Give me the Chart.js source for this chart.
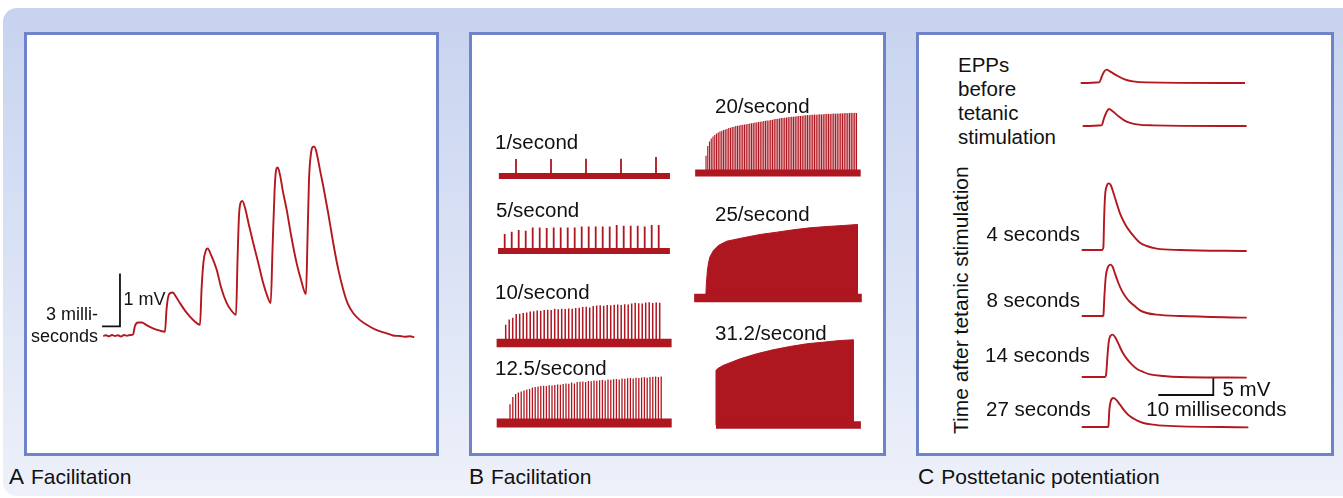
<!DOCTYPE html>
<html>
<head>
<meta charset="utf-8">
<script src="https://cdn.jsdelivr.net/npm/chart.js@4.4.1/dist/chart.umd.min.js"></script>
<style>
  body { margin: 0; background: #fff; }
  #stage { position: relative; width: 1343px; height: 498px; overflow: hidden; font-family: "Liberation Sans", Arial, sans-serif; color: #111; }
  .bg { position: absolute; left: 3px; top: 8px; width: 1370px; height: 488px; border-radius: 14px;
        background: linear-gradient(to bottom, #c7d3ef 0%, #dbe3f5 55%, #eef1fa 100%); }
  .panel { position: absolute; top: 32px; height: 424px; background: #fff; border: 3px solid #7183c8; box-sizing: border-box; }
  .t { position: absolute; white-space: nowrap; line-height: 1; }
  .cap { position: absolute; white-space: nowrap; top: 462px; line-height: 30px; }
  .cap b { font-weight: normal; font-size: 22.5px; margin-right: 7px; }
  .cap span { font-size: 21px; }
  canvas { position: absolute; }
</style>
</head>
<body>
<div id="stage">
  <div class="bg"></div>
  <div class="panel" style="left:24px;width:415px"></div>
  <div class="panel" style="left:469px;width:417px"></div>
  <div class="panel" style="left:916px;width:418px"></div>
</div>
<script>
// ---- Panel A: facilitation, [ms, mV]
const facilTrace = [
  [0,0],[0.45,0.013],[0.95,-0.006],[1.45,0.019],[1.95,0],[2.45,0.015],[2.95,-0.01],[3.45,0.019],[3.95,0.005],[4.45,0.02],
  [4.95,0.028],[5.28,0.19],[5.78,0.255],[6.45,0.255],[7.12,0.21],[8.28,0.145],[9.45,0.10],[10.28,0.08],
  [10.53,0.49],[10.78,0.72],[11.12,0.81],[11.57,0.82],[12.12,0.74],[12.78,0.62],[13.62,0.48],[14.45,0.365],[15.28,0.27],[16.12,0.21],
  [16.37,0.87],[16.7,1.40],[17.12,1.62],[17.4,1.65],[17.95,1.53],[18.9,1.25],[19.62,0.92],[20.57,0.62],[21.28,0.49],[22.12,0.40],
  [22.37,1.43],[22.62,2.28],[22.95,2.53],[23.17,2.55],[23.62,2.42],[24.28,2.09],[25,1.75],[25.78,1.40],[26.67,0.99],[27.28,0.77],[27.9,0.62],
  [28.2,1.62],[28.55,2.75],[28.8,3.13],[29.07,3.18],[29.45,3.04],[29.95,2.72],[30.57,2.38],[31.28,1.91],[32.23,1.37],[32.95,1.06],[33.78,0.79],
  [34.03,1.81],[34.28,2.94],[34.62,3.45],[34.95,3.57],[35.2,3.57],[35.62,3.42],[36.12,3.13],[36.67,2.82],[37.45,2.34],[38.33,1.75],
  [39.12,1.28],[40,0.87],[40.78,0.60],[41.67,0.43],[42.78,0.30],[44.45,0.175],[45.78,0.10],[47.23,0.05],[48.28,0.01],[49.45,0],
  [50.28,-0.013],[51.12,-0.006],[51.83,-0.025]
];
const scaleBarA = [[-0.22,0.18],[2.78,0.18],[2.78,1.18]];   // 3 ms, 1 mV

// ---- Panel B: trains, amplitude in relative units
const rateLabels = ['1/second','5/second','10/second','12.5/second','20/second','25/second','31.2/second'];
const rates = [1, 5, 10, 12.5, 20, 25, 31.2];
const amp1 = [1.7,1.7,1.72,1.72,1.9];
const amp5 = [1.69,1.92,2.09,2.02,2.35,2.35,2.29,2.35,2.35,2.35,2.35,2.45,2.45,2.45,2.45,2.45,2.59,2.52,2.52,2.52,2.45,2.59,2.59];
const amp10 = [1.82,2.35,2.52,2.9,2.92,3.0,3.05,3.15,3.18,3.25,3.22,3.3,3.32,3.3,3.42,3.38,3.42,3.4,3.45,3.42,3.5,3.52,3.6,
  3.62,3.55,3.7,3.75,3.78,3.72,3.8,3.78,3.82,3.85,3.8,3.88,3.85,3.95,4.02,3.98,3.95,4.05,4.08,4.0,4.05,4.02];
const amp12_5 = [1.88,2.6,2.9,3.05,3.15,3.25,3.35,3.4,3.55,3.6,3.65,3.7,3.72,3.7,3.78,3.75,3.8,3.85,3.82,3.9,3.95,3.92,4.05,
  3.95,4.1,4.12,4.15,4.1,4.2,4.18,4.25,4.22,4.28,4.3,4.25,4.35,4.32,4.38,4.4,4.35,4.45,4.42,4.48,4.5,4.45,4.52,4.5,4.55,
  4.58,4.52,4.6,4.62,4.65,4.6,4.65];
const amp20 = [1.73,2.7,3.15,3.45,3.65,3.8,3.95,4.05,4.15,4.2,4.3,4.35,4.4,4.5,4.52,4.6,4.62,4.7,4.72,4.75,4.8,4.82,4.85,
  4.88,4.9,4.95,4.98,5.0,5.05,5.05,5.1,5.12,5.15,5.2,5.22,5.25,5.25,5.3,5.32,5.38,5.4,5.42,5.45,5.5,5.5,5.52,5.55,5.58,
  5.6,5.62,5.62,5.65,5.68,5.7,5.7,5.72,5.75,5.78,5.8,5.78,5.82,5.82,5.85,5.82,5.85,5.88,5.85,5.88,5.9,5.9,5.92,5.9,5.92,
  5.95,5.92,5.95,5.95,5.98,5.95,5.98,6.0,5.98,6.0,6.02,6.0,6.02,6.0];
const env25 = [[0,0],[0.02,1.5],[0.05,2.8],[0.08,3.5],[0.12,4.1],[0.22,4.75],[0.36,5.25],[0.6,5.68],[1.07,6.02],[1.55,6.35],
  [2.03,6.58],[2.5,6.82],[2.98,7.02],[3.46,7.15],[3.93,7.25],[4.33,7.35],[4.33,0]];
const env31 = [[0,0],[0,5.45],[0.05,5.65],[0.2,5.95],[0.69,6.62],[1.16,7.12],[1.63,7.52],[2.11,7.85],[2.59,8.12],[3.06,8.28],
  [3.54,8.45],[3.92,8.52],[3.92,0]];
const recordWindows = [[-0.49,4.4],[-0.19,4.72],[-0.26,4.74],[-0.38,4.62],[-0.31,4.42],[-0.33,4.46],[0,4.14]];   // s

// ---- Panel C: EPPs, [ms, mV]
const eppLabels = ['4 seconds','8 seconds','14 seconds','27 seconds'];
const eppBefore1 = [[0,0],[3.38,0.21],[3.8,1.8],[4.22,3.3],[4.71,4.0],[5.31,3.5],[6.53,2.3],[7.98,1.1],[9.5,0.5],[11.95,0.2],[29.87,0]];
const eppBefore2 = [[0,0],[3.45,0.21],[3.87,2.3],[4.36,4.3],[4.78,5.1],[5.38,4.5],[6.47,3.0],[7.98,1.3],[9.8,0.5],[12.82,0.2],[29.8,0]];
const epp4s = [[0,0],[3.64,0],[3.94,0.8],[4.07,9.0],[4.24,16.0],[4.55,19.2],[4.91,20.0],[5.27,19.5],[5.76,17.2],[6.36,14.0],
  [6.96,11.0],[7.87,7.8],[8.78,5.5],[9.69,3.7],[10.6,2.2],[11.82,1.2],[13.64,0.4],[17.87,0],[30,-0.3]];
const epp8s = [[0,0],[3.8,0],[3.94,0.2],[4.12,5.7],[4.37,11.7],[4.73,14.5],[5.27,15.4],[5.64,14.7],[6.06,12.7],[6.67,9.9],
  [7.27,7.7],[8.0,5.7],[8.78,4.2],[9.69,2.9],[10.6,1.7],[11.82,0.9],[13.64,0.4],[17.87,0],[30,-0.5]];
const epp14s = [[0,0],[4.2,0],[4.42,0.5],[4.67,6.0],[4.91,10.5],[5.2,12.3],[5.64,12.7],[6.06,12.0],[6.67,10.0],[7.39,7.5],
  [8.18,5.5],[9.09,3.8],[10.0,2.5],[11.21,1.5],[12.42,0.8],[14.85,0.3],[17.87,0],[30,-0.2]];
const epp27s = [[0,0],[4.7,0],[4.85,0.2],[5.03,5.2],[5.27,7.7],[5.75,8.7],[6.24,8.2],[6.96,6.7],[7.87,4.7],[8.78,3.2],
  [10.0,2.0],[11.21,1.2],[13.03,0.7],[14.85,0.4],[30.3,-0.1]];
const scaleBarC = [[0,0],[10,0],[10,5]];   // 10 ms, 5 mV

const captions = [['A', 'Facilitation'], ['B', 'Facilitation'], ['C', 'Posttetanic potentiation']];

// ------------------------------------------------------------
const RED = '#ae1620';
const TRACE = '#b3181f';
const stage = document.getElementById('stage');
const toXY = pairs => pairs.map(([x, y]) => ({ x, y }));

// box = [left, top, w, h] on the page, origin = page px of (0,0), scale = px per unit
function mini(box, origin, scale, datasets) {
  const c = document.createElement('canvas');
  c.width = box[2]; c.height = box[3];
  c.style.left = box[0] + 'px'; c.style.top = box[1] + 'px';
  stage.appendChild(c);
  const [ox, oy] = origin, [sx, sy] = scale;
  new Chart(c, {
    type: 'line',
    data: { datasets },
    options: {
      responsive: false, animation: false, events: [],
      layout: { padding: 0 },
      elements: { point: { radius: 0 } },
      plugins: { legend: { display: false }, tooltip: { enabled: false } },
      scales: {
        x: { type: 'linear', display: false, min: (box[0] - ox) / sx, max: (box[0] + box[2] - ox) / sx },
        y: { type: 'linear', display: false, min: (oy - box[1] - box[3]) / sy, max: (oy - box[1]) / sy }
      }
    }
  });
}

function line(pairs, color, width, extra) {
  return Object.assign({ data: toXY(pairs), borderColor: color, borderWidth: width, fill: false, clip: false,
    tension: 0, borderJoinStyle: 'round' }, extra || {});
}
const smooth = { cubicInterpolationMode: 'monotone' };

function spikes(amps, rate) {
  const pts = [];
  amps.forEach((a, i) => { const t = i / rate; pts.push([t, 0], [t, a], [t, 0]); });
  return pts;
}

function text(str, left, top, size, extra) {
  const d = document.createElement('div');
  d.className = 't';
  d.textContent = str;
  d.style.left = left + 'px'; d.style.top = top + 'px'; d.style.fontSize = size + 'px';
  if (extra) Object.assign(d.style, extra);
  stage.appendChild(d);
  return d;
}

// ---- A
mini([28, 38, 408, 414], [103.3, 336], [6, 53], [
  line(facilTrace, TRACE, 1.9, smooth),
  line(scaleBarA, '#111', 1.8, { borderJoinStyle: 'miter' })
]);
text('1 mV', 123.5, 289.6, 18);
text('3 milli-', 0, 304.8, 18, { width: '98px', textAlign: 'right', left: '0px' });
text('seconds', 0, 326.5, 18, { width: '98px', textAlign: 'right', left: '0px' });

// ---- B
const trainLayout = [
  { x0: 516,   y0: 176.3, col: 0, bar: 6,   spike: 1.8, label: [495, 131.8] },
  { x0: 504.7, y0: 251.2, col: 0, bar: 6,   spike: 1.8, label: [496, 200.0] },
  { x0: 505.7, y0: 342.5, col: 0, bar: 8.5, spike: 1.5, label: [495, 282.0] },
  { x0: 510,   y0: 422.8, col: 0, bar: 9,   spike: 1.3, label: [495, 357.7] },
  { x0: 706,   y0: 173.3, col: 1, bar: 7,   spike: 1.15, label: [715, 96.0] },
  { x0: 705.7, y0: 297.5, col: 1, bar: 8.5, label: [715, 203.7] },
  { x0: 716,   y0: 424.5, col: 1, bar: 7.5, label: [715, 323.4] }
];
const trainAmps = [amp1, amp5, amp10, amp12_5, amp20];
const trainEnv = [null, null, null, null, null, env25, env31];
trainLayout.forEach((L, k) => {
  const box = L.col === 0 ? [488, L.y0 - 92, 194, 104] : [686, L.y0 - 92, 186, 104];
  const ds = [line(recordWindows[k].map(t => [t, 0]), RED, L.bar, { borderCapStyle: 'butt' })];
  if (trainAmps[k]) ds.push(line(spikes(trainAmps[k], rates[k]), RED, L.spike, { borderJoinStyle: 'bevel' }));
  if (trainEnv[k]) ds.push(line(trainEnv[k], RED, 1, { fill: 'origin', backgroundColor: RED, borderJoinStyle: 'miter' }));
  mini(box, [L.x0, L.y0], [35, 10], ds);
  text(rateLabels[k], L.label[0], L.label[1], 20.5);
});

// ---- C
const eppLayout = [
  { data: eppBefore1, x0: 1080.7, y0: 82.7 },
  { data: eppBefore2, x0: 1082.7, y0: 126 },
  { data: epp4s,  x0: 1081.7, y0: 250 },
  { data: epp8s,  x0: 1081.7, y0: 315.7 },
  { data: epp14s, x0: 1081.7, y0: 376.7 },
  { data: epp27s, x0: 1081.7, y0: 427.3 }
];
eppLayout.forEach(E => {
  mini([1068, E.y0 - 74, 196, 86], [E.x0, E.y0], [5.5, 3.333], [line(E.data, TRACE, 1.9, smooth)]);
});
mini([1150, 368, 72, 34], [1158.3, 395], [5.5, 3.333], [line(scaleBarC, '#111', 1.8, { borderJoinStyle: 'miter' })]);

['EPPs', 'before', 'tetanic', 'stimulation'].forEach((s, i) => text(s, 958, 55.3 + i * 24, 20.5));
const eppLabelPos = [[986.5, 224.3], [986.5, 289.9], [985, 345.3], [986, 399.3]];
eppLabels.forEach((s, i) => text(s, eppLabelPos[i][0], eppLabelPos[i][1], 20.5));
text('5 mV', 1222.5, 378.6, 20.5);
text('10 milliseconds', 1146.3, 399.3, 20.5);
text('Time after tetanic stimulation', 950.4, 433.5, 21, { transform: 'rotate(-90deg)', transformOrigin: '0 0' });

// ---- panel captions
[9, 469, 918].forEach((x, i) => {
  const d = document.createElement('div');
  d.className = 'cap';
  d.style.left = x + 'px';
  const b = document.createElement('b'); b.textContent = captions[i][0];
  const s = document.createElement('span'); s.textContent = captions[i][1];
  d.append(b, s);
  stage.appendChild(d);
});
</script>
</body>
</html>
